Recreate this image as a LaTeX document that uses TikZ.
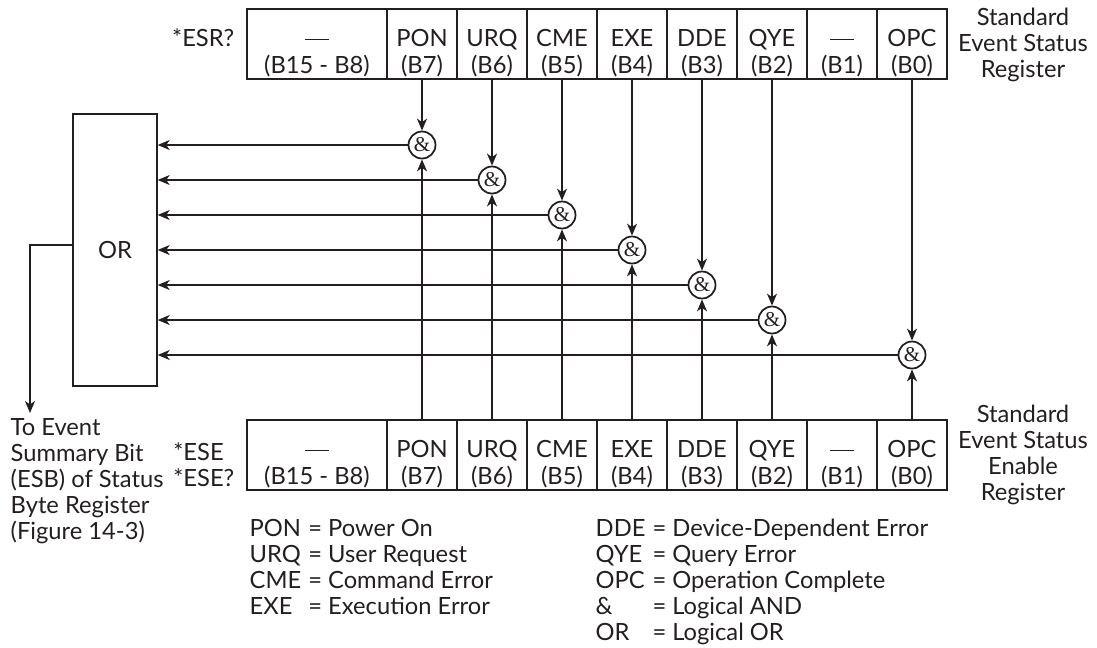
\documentclass[tikz,border=0pt]{standalone}
\usepackage{fontspec}
\setmainfont{Lato}
\newfontfamily\ampfont{Liberation Serif}
\usetikzlibrary{positioning, arrows.meta}
\definecolor{ink}{RGB}{35,31,32}
\newcommand{\nobit}{\vphantom{P}\rule[0.25em]{4.8mm}{0.55pt}}

\begin{document}
\begin{tikzpicture}[x=0.2mm, y=-0.2mm, line width=0.8pt, color=ink,
  font=\fontsize{13.5}{14.8}\selectfont,
  cell/.style={draw, rectangle, minimum width=14mm, minimum height=14mm, inner sep=0pt},
  widecell/.style={cell, minimum width=28mm},
  celltext/.style={align=center, inner sep=0pt, font=\fontsize{13.5}{15.4}\selectfont},
  gate/.style={draw, circle, line width=1pt, minimum size=5.4mm, inner sep=0pt,
    font=\ampfont\fontsize{12}{12}\selectfont},
  sig/.style={-{Stealth[length=2.4mm, width=2mm, inset=0.7mm]}},
  tag/.style={align=center, inner sep=0pt}]
\useasboundingbox (0,0) rectangle (1097,647);

\def\topy{44}
\def\boty{455}

\node[draw, minimum width=16.8mm, minimum height=54.4mm, inner sep=0pt] (orbox) at (115,250) {OR};

\node[widecell] (esrw) at (317,\topy) {};
\node[celltext] (esrwt) at ([yshift=-1.8mm]esrw.center) {\nobit\\(B15 - B8)};
\node[widecell] (esew) at (317,\boty) {};
\node[celltext] (esewt) at ([yshift=-1.8mm]esew.center) {\nobit\\(B15 - B8)};

\foreach \nm [count=\i from 0] in {PON,URQ,CME,EXE,DDE,QYE,\nobit,OPC} {
  \pgfmathtruncatemacro{\bit}{7-\i}
  \node[cell] (esr\bit) at ({422+70*\i},\topy) {};
  \node[celltext] (esrt\bit) at ([yshift=-1.8mm]esr\bit.center) {\nm\\(B\bit)};
  \node[cell] (ese\bit) at ({422+70*\i},\boty) {};
  \node[celltext] (eset\bit) at ([yshift=-1.8mm]ese\bit.center) {\nm\\(B\bit)};
}

\foreach \bit/\gy in {7/145, 6/180, 5/215, 4/250, 3/285, 2/320, 0/355} {
  \node[gate] (and\bit) at ({422+70*(7-\bit)},\gy) {\&};
  \draw[sig] (esr\bit.south) -- (and\bit.north);
  \draw[sig] (ese\bit.north) -- (and\bit.south);
  \draw[sig] (and\bit.west) -- (and\bit.west -| orbox.east);
}

\coordinate (esb) at (30,413);
\draw[sig] ([yshift=1mm]orbox.west) -| (esb);

\node[anchor=east, inner sep=0pt] (esrcmd) at (235,38) {*ESR?};
\node[anchor=east, align=left, inner sep=0pt] (esecmd) at (235,465) {*ESE\\*ESE?};

\node[tag] (esrname) at (1023,45) {Standard\\Event Status\\Register};
\node[tag] (esename) at (1023,455) {Standard\\Event Status\\Enable\\Register};
\node[anchor=north west, align=left, inner sep=0pt] (esbnote) at (10,418)
  {To Event\\Summary Bit\\(ESB) of Status\\Byte Register\\(Figure 14-3)};

\node[anchor=north west, inner sep=0pt] (keyl) at (249,518)
  {\begin{tabular}{@{}l@{\hspace{4pt}}l@{}}
    PON & = Power On\\ URQ & = User Request\\ CME & = Command Error\\ EXE & = Execution Error
  \end{tabular}};
\node[anchor=north west, inner sep=0pt] (keyr) at (595,518)
  {\begin{tabular}{@{}l@{\hspace{4pt}}l@{}}
    DDE & = Device-Dependent Error\\ QYE & = Query Error\\ OPC & = Operation Complete\\
    \& & = Logical AND\\ OR & = Logical OR
  \end{tabular}};
\end{tikzpicture}
\end{document}
